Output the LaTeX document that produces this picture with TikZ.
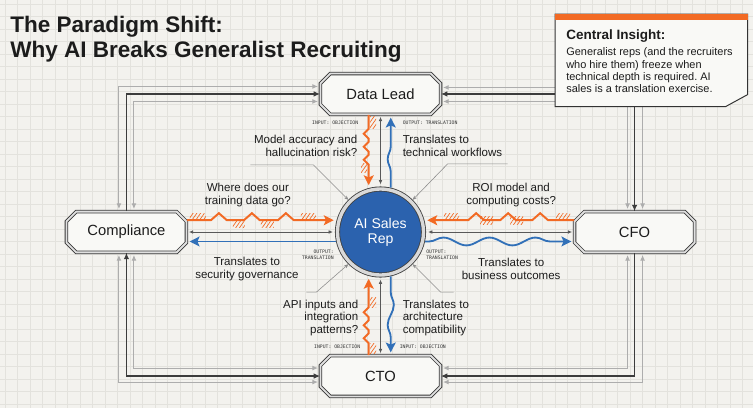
\documentclass[tikz,border=0pt]{standalone}
\usepackage{fontspec}
\setmainfont{Liberation Sans}
\setsansfont{Liberation Sans}
\setmonofont{DejaVu Sans Mono}
\usetikzlibrary{arrows.meta, positioning, calc, shapes.misc, decorations.pathmorphing, patterns.meta, backgrounds}

\definecolor{paper}{HTML}{F3F2EE}
\definecolor{gridline}{HTML}{E3E2DD}
\definecolor{ink}{HTML}{1C1C1C}
\definecolor{wirec}{HTML}{3C3C3C}
\definecolor{trackc}{HTML}{ADADAD}
\definecolor{objorange}{HTML}{F26A24}
\definecolor{repblue}{HTML}{2B62AE}
\definecolor{transblue}{HTML}{3170B8}
\definecolor{boxfill}{HTML}{F9F9F6}
\frenchspacing

\begin{document}
\begin{tikzpicture}[
    x=0.025cm, y=-0.025cm,
    font=\sffamily,
    % Define styles for the node types
    rolebox/.style={chamfered rectangle, chamfered rectangle xsep=3.5pt, chamfered rectangle ysep=3.5pt, draw=black!78, line width=0.6pt, double=black!12, double distance=1.3pt, fill=boxfill, minimum width=3.0cm, minimum height=1.02cm, inner sep=0pt, text=ink, font=\fontsize{10.5}{12}\selectfont},
    repcircle/.style={circle, fill=repblue, draw=black!75, line width=0.6pt, double=black!15, double distance=2.4pt, minimum size=2.15cm, inner sep=0pt, outer sep=1.8pt, text=white, align=center, font=\fontsize{10}{10.7}\selectfont},
    qlabel/.style={inner sep=0pt, text=ink, font=\fontsize{8.2}{9}\selectfont},
    tag/.style={inner sep=0pt, text=black!80, font=\ttfamily\fontsize{3.4}{4.3}\selectfont},
    % Define styles for the connectors
    wire/.style={draw=wirec, line width=1pt},
    tip/.style={-{Latex[length=4.5pt,width=4pt]}},
    track/.style={draw=trackc, line width=0.7pt, {Latex[length=4pt,width=3.5pt]}-{Latex[length=4pt,width=3.5pt]}, shorten <=1.5pt, shorten >=1.5pt},
    link/.style={draw=black!65, line width=0.5pt, {Latex[length=3pt,width=2.6pt]}-{Latex[length=3pt,width=2.6pt]}, shorten <=1.5pt, shorten >=1.5pt},
    objection/.style={draw=objorange, line width=1.4pt, line join=miter, -{Stealth[length=7pt,width=7pt,inset=1.5pt]}, shorten >=2pt},
    translation/.style={draw=transblue, line width=1.3pt, -{Stealth[length=7pt,width=7pt,inset=1.5pt]}, shorten >=2pt},
    hatch/.style={pattern={Lines[angle=55,distance=2.2pt,line width=0.5pt]}, pattern color=objorange},
    leader/.style={draw=black!45, line width=0.4pt, {Stealth[length=3pt,width=2.5pt]}-},
]
\useasboundingbox (0,0) rectangle (753,408);

% -------------------------
% Paper and grid
% -------------------------
\begin{scope}[on background layer]
    \fill[paper] (0,0) rectangle (753,408);
    \foreach \gx in {5,17.5,...,753} \draw[gridline, line width=0.3pt] (\gx,0) -- (\gx,408);
    \foreach \gy in {4,16.5,...,408} \draw[gridline, line width=0.3pt] (0,\gy) -- (753,\gy);
\end{scope}

% -------------------------
% Main Nodes
% -------------------------
\node (rep) [repcircle] at (380.5,232) {AI Sales\\Rep};
\node (lead) [rolebox, on grid, above=3.45cm of rep] {Data Lead};
\node (cto) [rolebox, on grid, below=3.6cm of rep] {CTO};
\node (comp) [rolebox, on grid, left=6.35cm of rep] {Compliance};
\node (cfo) [rolebox, on grid, right=6.35cm of rep] {CFO};

\node (title) [anchor=north west, inner sep=0pt, align=left, text=ink, font=\bfseries\fontsize{16}{17.5}\selectfont] at (10,16) {The Paradigm Shift:\\Why AI Breaks Generalist Recruiting};

% -------------------------
% Outer routes
% -------------------------
\draw[wire, tip] (comp.north) |- (lead.west);
\draw[track] ($(lead.west)+(0,-7.5)$) -| ($(comp.north)+(-7.5,0)$);
\draw[track] ($(lead.west)+(0,7.5)$) -| ($(comp.north)+(7.5,0)$);

\draw[wire, tip] (comp.south) |- (cto.west);
\draw[wire, tip] (cto.west -| comp.south) -- (comp.south);
\draw[track] ($(cto.west)+(0,-8)$) -| ($(comp.south)+(7.5,0)$);
\draw[track] ($(cto.west)+(0,6)$) -| ($(comp.south)+(-7.5,0)$);

\draw[wire, tip] (cfo.north) |- (lead.east);
\draw[wire, tip] (lead.east -| cfo.north) -- (cfo.north);
\draw[track] ($(lead.east)+(0,-6.5)$) -| ($(cfo.north)+(8,0)$);
\draw[track] ($(lead.east)+(0,7.5)$) -| ($(cfo.north)+(-7,0)$);

\draw[wire, tip] (cfo.south) |- (cto.east);
\draw[track] ($(cto.east)+(0,-8)$) -| ($(cfo.south)+(-7,0)$);
\draw[track] ($(cto.east)+(0,6)$) -| ($(cfo.south)+(8,0)$);

% -------------------------
% Objections (orange)
% -------------------------
\draw[objection] (comp.east |- rep.165) -- ++(24,0) -- ++(8,-7) -- ++(8,7) -- ++(17,0) -- ++(8,-7) -- ++(8,7) -- ++(18,0) -- ++(8,-7) -- ++(8,7) -- (rep.165);
\fill[hatch] ($(comp.east |- rep.165)+(3,-7)$) rectangle ++(16,6);
\fill[hatch] ($(comp.east |- rep.165)+(46,1)$) rectangle ++(12,6);
\fill[hatch] ($(comp.east |- rep.165)+(74,1)$) rectangle ++(13,6);
\fill[hatch] ($(comp.east |- rep.165)+(114,-7)$) rectangle ++(15,6);

\draw[objection] (cfo.west |- rep.15) -- ++(-26,0) -- ++(-8,-7) -- ++(-8,7) -- ++(-16,0) -- ++(-8,-7) -- ++(-8,7) -- ++(-16,0) -- ++(-8,-7) -- ++(-8,7) -- (rep.15);
\fill[hatch] ($(cfo.west |- rep.15)+(-18,-7)$) rectangle ++(14,6);
\fill[hatch] ($(cfo.west |- rep.15)+(-64,-4)$) rectangle ++(13,8);
\fill[hatch] ($(cfo.west |- rep.15)+(-94,-4)$) rectangle ++(13,8);
\fill[hatch] ($(cfo.west |- rep.15)+(-130,-7)$) rectangle ++(15,6);

\draw[objection] (lead.south -| rep.105) -- ++(0,14) -- ++(-5,5) -- ++(5,5) -- ++(0,3) -- ++(-5,5) -- ++(5,5) -- ++(0,3) -- ++(-5,5) -- ++(5,5) -- (rep.105);
\fill[hatch] ($(lead.south -| rep.105)+(1.5,2)$) rectangle ++(6,12);
\fill[hatch] ($(lead.south -| rep.105)+(-7.5,49)$) rectangle ++(6,9);

\draw[objection] (cto.north -| rep.255) -- ++(0,-12) -- ++(-5,-5) -- ++(5,-5) -- ++(0,-3) -- ++(-5,-5) -- ++(5,-5) -- ++(0,-3) -- ++(-5,-5) -- ++(5,-5) -- (rep.255);
\fill[hatch] ($(cto.north -| rep.255)+(1.5,-2)$) rectangle ++(6,-10);
\fill[hatch] ($(cto.north -| rep.255)+(1.5,-48)$) rectangle ++(6,-10);

% -------------------------
% Direct links (grey)
% -------------------------
\draw[link] (lead.south) -- (rep.north);
\draw[link] (rep.south) -- (cto.north);
\draw[link] (comp.east) -- (rep.west |- comp.east);
\draw[link] (rep.east |- cfo.west) -- (cfo.west);

% -------------------------
% Translations (blue)
% -------------------------
\draw[translation, decorate, decoration={snake, amplitude=2.2pt, segment length=1cm, pre length=0.4cm, post length=0.35cm}] (rep.77) -- (lead.south -| rep.77);
\draw[translation, decorate, decoration={snake, amplitude=2.2pt, segment length=1cm, pre length=0.4cm, post length=0.35cm}] (rep.283) -- (cto.north -| rep.283);
\draw[translation] (rep.192) -- (comp.east |- rep.192);
\draw[translation, decorate, decoration={snake, amplitude=2.8pt, segment length=1.15cm, pre length=0.1cm, post length=0.35cm}] (rep.-12) -- (cfo.west |- rep.-12);

% -------------------------
% Leader lines
% -------------------------
\draw[leader] (rep.135) -- ++(-35,-35) -- ++(-63,0);
\draw[leader] (rep.45) -- ++(35,-36) -- ++(60,0);
\draw[leader] (rep.225) -- ++(-32,28) -- ++(-10,0);
\draw[leader] (rep.315) -- ++(28,28) -- ++(13,0);

% -------------------------
% Labels
% -------------------------
\node (qlead) [qlabel, align=right, anchor=east] at ($(lead.south)+(-23,31)$) {Model accuracy and\\hallucination risk?};
\node (tlead) [qlabel, align=left, anchor=west] at ($(lead.south)+(22,31)$) {Translates to\\technical workflows};
\node (qcto) [qlabel, align=right, anchor=east] at ($(cto.north)+(-22,-37.5)$) {API inputs and\\integration\\patterns?};
\node (tcto) [qlabel, align=left, anchor=west] at ($(cto.north)+(22,-37.5)$) {Translates to\\architecture\\compatibility};
\node (qcomp) [qlabel, align=center] at ($(comp.east)+(61,-37)$) {Where does our\\training data go?};
\node (tcomp) [qlabel, align=center] at ($(comp.east)+(60,37)$) {Translates to\\security governance};
\node (qcfo) [qlabel, align=center] at ($(cfo.west)+(-63,-37)$) {ROI model and\\computing costs?};
\node (tcfo) [qlabel, align=center] at ($(cfo.west)+(-63,37)$) {Translates to\\business outcomes};

\node (taglead1) [tag, anchor=east] at ($(lead.south)+(-22,8)$) {INPUT: OBJECTION};
\node (taglead2) [tag, anchor=west] at ($(lead.south)+(22,8)$) {OUTPUT: TRANSLATION};
\node (tagcto1) [tag, anchor=east] at ($(cto.north)+(-20,-8)$) {INPUT: OBJECTION};
\node (tagcto2) [tag, anchor=west] at ($(cto.north)+(19,-8)$) {INPUT: OBJECTION};
\node (tagcomp) [tag, align=right, anchor=east] at ($(rep.west)+(-1,23)$) {OUTPUT:\\TRANSLATION};
\node (tagcfo) [tag, align=left, anchor=west] at ($(rep.east)+(0,23)$) {OUTPUT:\\TRANSLATION};

% -------------------------
% Central insight note
% -------------------------
\node (insight) [anchor=north west, inner sep=0pt, minimum width=4.8cm, minimum height=2.3cm] at (555,14) {};
\draw[draw=black!80, line width=0.7pt, fill=boxfill] (insight.north west) -- (insight.north east) -- ($(insight.south east)+(0,-12)$) -- ($(insight.south east)+(-22,0)$) -- (insight.south west) -- cycle;
\fill[objorange] (insight.north west) rectangle ($(insight.north east)+(0,6)$);
\node (insighthead) [anchor=north west, inner sep=0pt, text=ink, font=\bfseries\fontsize{9.6}{11}\selectfont] at ($(insight.north west)+(11,15)$) {Central Insight:};
\node (insightbody) [anchor=north west, inner sep=0pt, align=left, text=ink, font=\fontsize{7.8}{8.75}\selectfont] at ($(insight.north west)+(11,33.5)$) {Generalist reps (and the recruiters\\who hire them) freeze when\\technical depth is required. AI\\sales is a translation exercise.};

\end{tikzpicture}
\end{document}
